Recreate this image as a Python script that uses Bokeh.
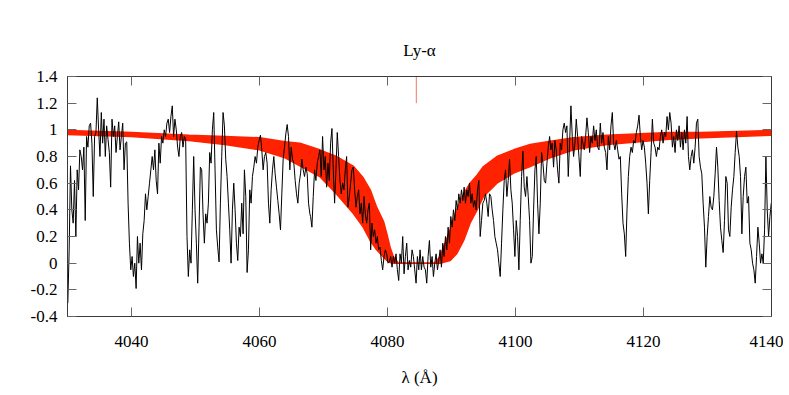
import numpy as np
from bokeh.plotting import figure
from bokeh.models import LinearAxis, FixedTicker, Range1d
from bokeh.embed import file_html
from bokeh.resources import INLINE

# ---------------- data ----------------
TITLE = "Ly-α"
X_LABEL = "λ (Å)"
X_TICKS = [4040, 4060, 4080, 4100, 4120, 4140]
Y_TICKS = [-0.4, -0.2, 0, 0.2, 0.4, 0.6, 0.8, 1, 1.2, 1.4]
Y_TICK_LABELS = ["-0.4", "-0.2", "0", "0.2", "0.4", "0.6", "0.8", "1", "1.2", "1.4"]

# observed spectrum, six pieces (wavelength span of each piece, flux samples)
LAM_A = (4030.05, 4049.09)
FLUX_A = [-0.30, 0.10, 0.73, 0.40, 0.30, 0.62, 0.20, 0.70, 0.55, 0.85, 0.80, 0.70, 0.87, 0.32, 0.95,
          0.87, 1.03, 1.05, 0.90, 0.50, 0.95, 0.98, 1.24, 1.00, 0.80, 1.13, 0.90, 1.08, 0.80, 1.03,
          0.93, 0.83, 0.57, 1.08, 0.95, 1.03, 0.83, 0.95, 1.06, 0.85, 0.95, 1.05, 0.70, 0.90, 0.91,
          0.45, 0.15, -0.05, 0.05, -0.10, 0.00, -0.19, 0.20, 0.00, 0.15, -0.05, 0.22, 0.32, 0.52, 0.40,
          0.50, 0.60, 0.70, 0.80, 0.70, 0.85, 0.62, 0.52, 0.90, 0.75, 0.95, 0.90, 1.00, 0.95, 1.05,
          1.08, 0.98, 1.10, 1.18, 0.95, 1.08, 1.00, 0.87, 0.80, 0.95, 0.98, 0.87, 0.95, 0.93, 0.20,
          -0.10, 0.10]
LAM_B = (4049.30, 4067.87)
FLUX_B = [0.00, 0.40, 0.80, 0.40, 0.15, -0.15, 0.27, 0.72, 0.70, 0.37, 0.15, 0.37, 0.30, 0.45, 0.83,
          0.75, 1.00, 1.13, 0.70, 0.25, 0.12, 0.01, 0.45, 0.80, 1.13, 1.03, 0.78, 0.65, 0.45, 0.25,
          0.00, 0.40, 0.60, 0.40, 0.15, 0.02, 0.27, 0.20, 0.45, 0.22, 0.70, 0.50, -0.07, 0.10, 0.55,
          0.45, 0.65, 0.72, 0.80, 0.75, 0.87, 0.92, 0.96, 0.85, 0.70, 0.80, 0.83, 0.75, 0.45, 0.30,
          0.55, 0.70, 0.80, 0.67, 0.57, 0.47, 0.37, 0.25, 0.52, 0.78, 0.87, 0.97, 1.04, 0.95, 0.70,
          0.87, 0.78, 0.75, 0.62, 0.52, 0.45, 0.60, 0.67, 0.78, 0.70, 0.65, 0.72, 0.67, 0.45, 0.37]
LAM_C = (4067.98, 4086.55)
FLUX_C = [0.35, 0.27, 0.50, 0.70, 0.62, 0.75, 0.80, 0.85, 0.65, 0.95, 0.70, 0.80, 0.57, 0.75, 0.62,
          0.90, 1.01, 0.70, 0.45, 0.70, 0.98, 0.80, 0.62, 0.52, 0.60, 0.55, 0.70, 0.80, 0.42, 0.50,
          0.60, 0.70, 0.72, 0.55, 0.42, 0.50, 0.55, 0.37, 0.45, 0.30, 0.50, 0.37, 0.30, 0.40, 0.45,
          0.10, 0.30, 0.20, 0.25, 0.15, 0.20, 0.10, 0.12, 0.02, -0.05, 0.05, 0.10, 0.07, 0.00, 0.01,
          0.05, -0.03, 0.05, 0.00, 0.07, -0.05, -0.13, 0.07, 0.00, 0.20, -0.08, 0.05, 0.15, -0.05, 0.02,
          -0.03, 0.10, 0.05, -0.05, -0.15, 0.05, -0.05, 0.10, -0.05, 0.05, -0.03, -0.05, -0.15, 0.05, 0.17]
LAM_D = (4086.76, 4105.33)
FLUX_D = [-0.03, 0.05, -0.10, 0.00, 0.07, -0.05, 0.02, 0.10, -0.03, 0.15, 0.05, 0.20, 0.10, 0.27, 0.15,
          0.35, 0.27, 0.40, 0.32, 0.47, 0.40, 0.52, 0.45, 0.55, 0.47, 0.57, 0.45, 0.55, 0.50, 0.60,
          0.45, 0.52, 0.42, 0.47, 0.40, 0.55, 0.62, 0.20, 0.32, 0.45, 0.47, 0.52, 0.45, 0.35, 0.52,
          0.50, 0.40, 0.32, 0.20, 0.15, 0.10, 0.00, -0.10, 0.15, 0.40, 0.62, 0.70, 0.50, 0.62, 0.78,
          0.55, 0.45, 0.25, 0.05, 0.32, 0.20, -0.05, 0.32, 0.65, 0.84, 0.57, 0.50, 0.65, 0.50, 0.32,
          0.00, 0.05, 0.40, 0.70, 0.80, 0.45, 0.22, 0.45, 0.83, 0.75, 0.62, 0.60, 0.75, 0.87, 0.95]
LAM_E = (4105.53, 4124.10)
FLUX_E = [0.85, 0.90, 0.72, 0.92, 0.85, 0.70, 0.60, 0.90, 0.85, 1.00, 1.05, 0.98, 1.03, 0.65, 0.90,
          1.18, 0.95, 0.80, 0.90, 1.08, 0.95, 0.80, 0.65, 0.95, 0.90, 0.85, 0.95, 1.09, 0.98, 0.83,
          0.95, 0.90, 1.03, 0.92, 1.00, 0.87, 0.85, 1.05, 0.90, 0.98, 0.87, 0.83, 0.70, 0.95, 0.85,
          1.03, 1.13, 0.90, 0.85, 0.92, 0.85, 0.78, 0.80, 0.52, 0.30, 0.22, 0.05, 0.40, 0.65, 0.80,
          0.87, 0.83, 0.92, 0.90, 0.98, 1.03, 1.11, 0.95, 0.85, 0.92, 0.87, 0.75, 0.60, 0.37, 0.62,
          0.83, 1.08, 0.90, 0.87, 0.80, 0.87, 0.85, 0.95, 1.00, 0.90, 0.98, 0.95, 1.10, 1.00, 1.13]
LAM_F = (4124.31, 4139.96)
FLUX_F = [1.05, 0.87, 0.95, 0.83, 1.00, 0.92, 1.03, 0.87, 0.98, 0.85, 1.00, 0.90, 1.10, 0.80, 0.70,
          0.80, 0.85, 0.75, 0.87, 1.05, 1.08, 0.80, 0.72, 0.67, 0.45, 0.27, -0.03, 0.20, 0.35, 0.50,
          0.42, 0.40, 0.50, 0.67, 0.87, 0.72, 0.47, 0.27, 0.17, 0.08, 0.32, 0.65, 0.60, 0.25, 0.20,
          0.42, 0.55, 0.65, 0.83, 0.99, 0.87, 0.80, 0.65, 0.22, 0.50, 0.65, 0.72, 0.45, 0.50, 0.15,
          0.10, 0.00, -0.05, -0.15, 0.05, 0.27, 0.15, 0.00, 0.07, 0.00, 0.25, 0.80, 0.40, 0.20, 0.35,
          0.45]

# model profile band (upper and lower envelope)
BAND_LAM = [4030, 4040, 4049, 4054.6, 4060, 4064, 4066.3, 4069.4, 4072.0, 4074.7, 4076.2, 4077.3,
            4078.3, 4079.4, 4079.9, 4080.4, 4080.9, 4081.7, 4084.5, 4087.4, 4088.2, 4089.8, 4090.8,
            4091.9, 4092.9, 4094.0, 4095.0, 4097.1, 4099.7, 4102.3, 4105.2, 4109.1, 4114.3, 4124.0,
            4129.0, 4140]
BAND_UPPER = [0.995, 0.98, 0.96, 0.95, 0.94, 0.91, 0.90, 0.85, 0.80, 0.725, 0.64, 0.55,
              0.42, 0.31, 0.22, 0.12, 0.05, 0.0, 0.0, 0.0, 0.05, 0.25, 0.40,
              0.52, 0.60, 0.66, 0.725, 0.80, 0.85, 0.89, 0.913, 0.94, 0.96, 0.98,
              0.98, 0.995]
BAND_LOWER = [0.965, 0.95, 0.92, 0.89, 0.85, 0.79, 0.73, 0.65, 0.52, 0.37, 0.27, 0.17,
              0.10, 0.045, 0.02, 0.005, 0.0, 0.0, 0.0, 0.0, 0.0, 0.02, 0.07,
              0.17, 0.30, 0.40, 0.50, 0.60, 0.675, 0.725, 0.787, 0.85, 0.89, 0.93,
              0.94, 0.96]

# line-centre marker
MARK_LAM = [4084.5]
MARK_Y0 = [1.2]
MARK_Y1 = [1.4]

# ---------------- build ----------------
pieces = [(LAM_A, FLUX_A), (LAM_B, FLUX_B), (LAM_C, FLUX_C),
          (LAM_D, FLUX_D), (LAM_E, FLUX_E), (LAM_F, FLUX_F)]
lam = np.concatenate([np.linspace(a, b, len(f)) for (a, b), f in pieces])
flux = np.concatenate([np.array(f) for _, f in pieces])

FONT = "'Liberation Serif', serif"
FS = "17px"
FRAME = "#3a3a3a"
TICKC = "#666666"
RED = "#ff2200"

p = figure(width=783, height=393, x_range=Range1d(4030, 4140), y_range=Range1d(-0.4, 1.4),
           output_backend="svg", toolbar_location=None,
           min_border_left=67, min_border_right=12, min_border_top=76, min_border_bottom=77,
           x_axis_type=None, y_axis_type=None)
p.xgrid.visible = False
p.ygrid.visible = False
p.outline_line_color = FRAME
p.background_fill_color = "white"
p.border_fill_color = "white"

p.title.text = TITLE
p.title.align = "center"
p.title.text_font = FONT
p.title.text_font_size = FS
p.title.text_font_style = "normal"
p.title.text_color = "black"
p.title.standoff = 33

y_over = {v: s for v, s in zip(Y_TICKS, Y_TICK_LABELS)}


def style(ax):
    ax.axis_line_color = FRAME
    ax.major_tick_line_color = TICKC
    ax.major_tick_in = 9
    ax.major_tick_out = 0
    ax.minor_tick_line_color = None
    ax.major_label_text_font = FONT
    ax.major_label_text_font_size = FS
    ax.major_label_text_color = "black"


xb = LinearAxis(ticker=FixedTicker(ticks=X_TICKS), axis_label=X_LABEL)
style(xb)
xb.major_label_standoff = 19
xb.axis_label_text_font = FONT
xb.axis_label_text_font_size = FS
xb.axis_label_text_font_style = "normal"
xb.axis_label_text_color = "black"
xb.axis_label_standoff = 18
p.add_layout(xb, "below")

xt = LinearAxis(ticker=FixedTicker(ticks=X_TICKS),
                major_label_overrides={t: "" for t in X_TICKS})
style(xt)
xt.major_label_standoff = 0
p.add_layout(xt, "above")

yl = LinearAxis(ticker=FixedTicker(ticks=Y_TICKS), major_label_overrides=y_over)
style(yl)
yl.major_label_standoff = 10
p.add_layout(yl, "left")

yr = LinearAxis(ticker=FixedTicker(ticks=Y_TICKS),
                major_label_overrides={t: "" for t in Y_TICKS})
style(yr)
yr.major_label_standoff = 0
p.add_layout(yr, "right")

p.varea(x=BAND_LAM, y1=BAND_LOWER, y2=BAND_UPPER, fill_color=RED)
p.line(BAND_LAM, BAND_LOWER, line_color=RED, line_width=1.5)
p.line(BAND_LAM, BAND_UPPER, line_color=RED, line_width=1.5)

p.line(lam, flux, line_color="black", line_width=1)

p.segment(x0=MARK_LAM, y0=MARK_Y0, x1=MARK_LAM, y1=MARK_Y1, line_color="#f07868", line_width=1)

open("out.html", "w").write(file_html(p, INLINE))
